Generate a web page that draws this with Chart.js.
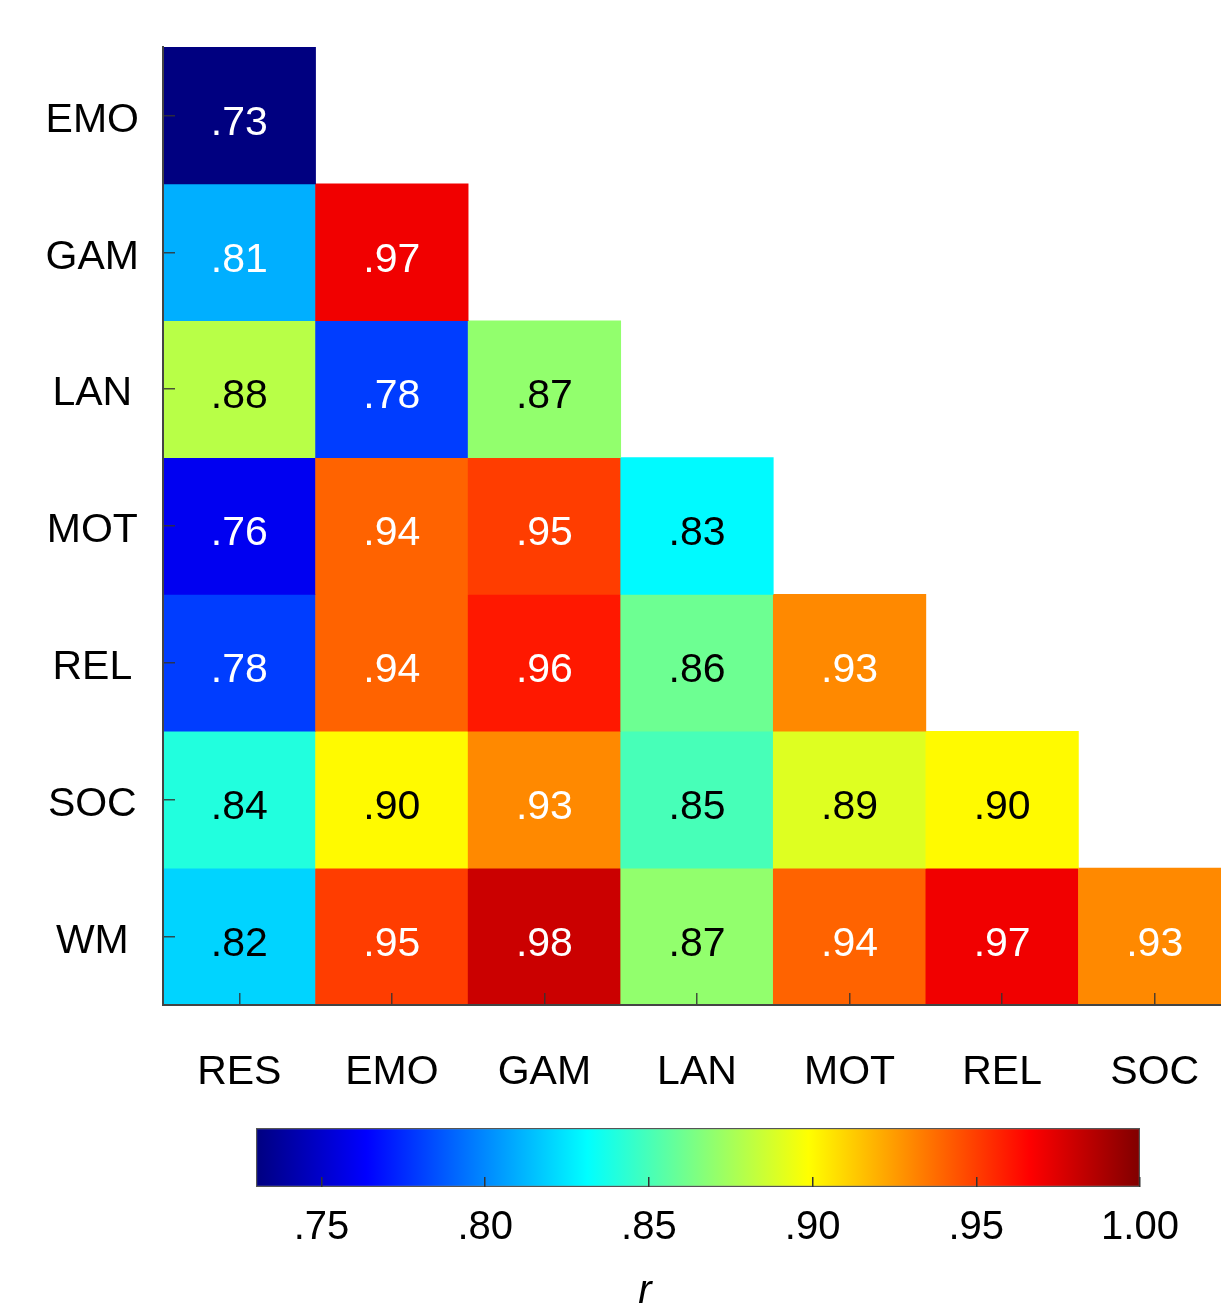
<!DOCTYPE html>
<html>
<head>
<meta charset="utf-8">
<title>Correlation heatmap</title>
<script src="https://cdn.jsdelivr.net/npm/chart.js@4.4.1/dist/chart.umd.min.js"></script>
<style>
    html, body { margin: 0; padding: 0; background: #fff; overflow: hidden; }
    #mainWrap { position: absolute; left: 0; top: 0; }
    #barWrap { position: absolute; left: 0; top: 1110px; }
</style>
</head>
<body>
<div id="mainWrap"><canvas id="heatChart" width="1240" height="1110"></canvas></div>
<div id="barWrap"><canvas id="scaleChart" width="1290" height="206"></canvas></div>
<script>
// Column / row labels
const cols = ["RES", "EMO", "GAM", "LAN", "MOT", "REL", "SOC"];
const rows = ["EMO", "GAM", "LAN", "MOT", "REL", "SOC", "WM"];

// Lower-triangle correlations, one array per row
const rEMO = [0.73];
const rGAM = [0.81, 0.97];
const rLAN = [0.88, 0.78, 0.87];
const rMOT = [0.76, 0.94, 0.95, 0.83];
const rREL = [0.78, 0.94, 0.96, 0.86, 0.93];
const rSOC = [0.84, 0.90, 0.93, 0.85, 0.89, 0.90];
const rWM  = [0.82, 0.95, 0.98, 0.87, 0.94, 0.97, 0.93];
const rowValues = [rEMO, rGAM, rLAN, rMOT, rREL, rSOC, rWM];

// Colour scale range and ticks
const cMin = 0.73;
const cMax = 1.00;
const scaleTicks = [0.75, 0.80, 0.85, 0.90, 0.95, 1.00];

const FONT = "'Liberation Sans', Arial, sans-serif";

// MATLAB style jet colormap
function jet(v) {
    const t = Math.min(1, Math.max(0, (v - cMin) / (cMax - cMin)));
    const clamp = x => Math.round(255 * Math.min(1, Math.max(0, x)));
    const r = clamp(Math.min(4 * t - 1.5, -4 * t + 4.5));
    const g = clamp(Math.min(4 * t - 0.5, -4 * t + 3.5));
    const b = clamp(Math.min(4 * t + 0.5, -4 * t + 2.5));
    return "rgb(" + r + "," + g + "," + b + ")";
}

function fmt(v) {
    return v.toFixed(2).replace(/^0/, "");
}

function textColour(v) {
    return (v <= 0.81 || v >= 0.93) ? "#ffffff" : "#000000";
}

// stop the label overhang from pushing the plot area around
function noPad(s) {
    s.paddingTop = 0;
    s.paddingBottom = 0;
    s.paddingLeft = 0;
    s.paddingRight = 0;
}

// --- Heatmap: one floating-bar dataset per row ---
const datasets = rows.map((name, i) => ({
    label: name,
    data: cols.map((c, j) => rowValues[i][j] != null ? [i, i + 1] : null),
    backgroundColor: cols.map((c, j) => rowValues[i][j] != null ? jet(rowValues[i][j]) : "transparent"),
    borderWidth: 0,
    grouped: false,
    barPercentage: 1,
    categoryPercentage: 1
}));

const cellText = {
    id: "cellText",
    afterDatasetsDraw(chart) {
        const ctx = chart.ctx;
        const xs = chart.scales.x;
        const ys = chart.scales.y;
        ctx.save();
        ctx.font = "41px " + FONT;
        ctx.textAlign = "center";
        ctx.textBaseline = "middle";
        rowValues.forEach((vals, i) => {
            vals.forEach((v, j) => {
                ctx.fillStyle = textColour(v);
                ctx.fillText(fmt(v), xs.getPixelForValue(j), ys.getPixelForValue(i + 0.5) + 8);
            });
        });
        ctx.restore();
    }
};

new Chart(document.getElementById("heatChart"), {
    type: "bar",
    data: { labels: cols, datasets: datasets },
    plugins: [cellText],
    options: {
        responsive: false,
        animation: false,
        devicePixelRatio: 1,
        layout: { padding: { left: 0, top: 47, right: 9, bottom: 0 } },
        plugins: { legend: { display: false }, tooltip: { enabled: false } },
        scales: {
            x: {
                type: "category",
                offset: true,
                afterFit: s => { s.height = 105; noPad(s); },
                grid: { offset: false, drawOnChartArea: false, tickLength: -12, color: "rgba(50,50,50,0.85)", lineWidth: 1.5, z: 1 },
                border: { color: "#444", width: 2, z: 1 },
                ticks: { color: "#000", font: { family: FONT, size: 41 }, padding: 55, maxRotation: 0 }
            },
            y: {
                type: "linear",
                reverse: true,
                min: 0,
                max: 7,
                afterFit: s => { s.width = 163; noPad(s); },
                afterBuildTicks: s => { s.ticks = rows.map((r, i) => ({ value: i + 0.5 })); },
                grid: { drawOnChartArea: false, tickLength: -12, color: "rgba(50,50,50,0.85)", lineWidth: 1.5, z: 1 },
                border: { color: "#444", width: 2, z: 1 },
                ticks: {
                    color: "#000",
                    font: { family: FONT, size: 41 },
                    crossAlign: "center",
                    padding: 36,
                    labelOffset: 5,
                    callback: (v, idx) => rows[idx]
                }
            }
        }
    }
});

// --- Colour bar ---
function jetGradient(chart) {
    const area = chart.chartArea;
    if (!area) return null;
    const xs = chart.scales.x;
    const x0 = xs.getPixelForValue(cMin);
    const x1 = xs.getPixelForValue(cMax);
    const g = chart.ctx.createLinearGradient(x0, 0, x1, 0);
    [0, 0.125, 0.375, 0.625, 0.875, 1].forEach(t => {
        g.addColorStop(t, jet(cMin + t * (cMax - cMin)));
    });
    return g;
}

// invisible side axes that only reserve space
const spacer = width => ({
    type: "category",
    labels: ["r"],
    afterFit: s => { s.width = width; noPad(s); },
    ticks: { display: false },
    grid: { display: false },
    border: { display: false }
});

const leftAxis = spacer(256);
const rightAxis = Object.assign(spacer(150), { position: "right" });

new Chart(document.getElementById("scaleChart"), {
    type: "bar",
    data: {
        labels: ["r"],
        datasets: [{
            data: [[cMin, cMax]],
            backgroundColor: ctx => jetGradient(ctx.chart),
            borderColor: "#555",
            borderWidth: 1.5,
            borderSkipped: false,
            barPercentage: 1,
            categoryPercentage: 1
        }]
    },
    options: {
        indexAxis: "y",
        responsive: false,
        animation: false,
        devicePixelRatio: 1,
        layout: { padding: { left: 0, right: 0, top: 18, bottom: 0 } },
        plugins: {
            legend: { display: false },
            tooltip: { enabled: false },
            title: {
                display: true,
                position: "bottom",
                text: "r",
                color: "#000",
                font: { family: FONT, size: 40, style: "italic", weight: "normal", lineHeight: 1.2 },
                padding: 0
            }
        },
        scales: {
            y: leftAxis,
            yRight: rightAxis,
            x: {
                type: "linear",
                position: "bottom",
                min: cMin,
                max: cMax,
                afterFit: s => { s.height = 81; noPad(s); },
                afterBuildTicks: s => { s.ticks = scaleTicks.map(v => ({ value: v })); },
                grid: { drawOnChartArea: false, tickLength: -10, color: "#333", lineWidth: 1.5, z: 1 },
                border: { display: false },
                ticks: {
                    color: "#000",
                    font: { family: FONT, size: 40 },
                    padding: 27,
                    maxRotation: 0,
                    autoSkip: false,
                    callback: v => fmt(v)
                }
            }
        }
    }
});
</script>
</body>
</html>
